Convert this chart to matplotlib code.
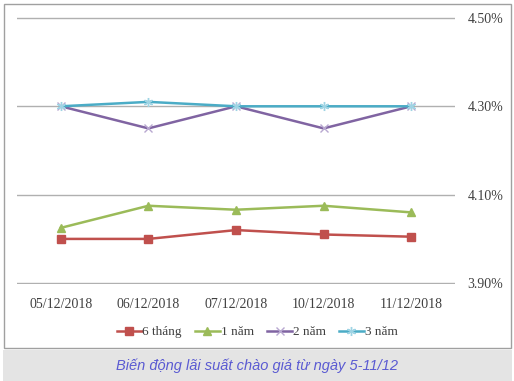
import matplotlib
matplotlib.use("Agg")
import matplotlib.pyplot as plt
from matplotlib.patches import Rectangle

dates = ["05/12/2018", "06/12/2018", "07/12/2018", "10/12/2018", "11/12/2018"]
s6m = [4.00, 4.00, 4.02, 4.01, 4.005]
s1y = [4.025, 4.075, 4.066, 4.075, 4.06]
s2y = [4.30, 4.25, 4.30, 4.25, 4.30]
s3y = [4.30, 4.31, 4.30, 4.30, 4.30]
series_names = ["6 tháng", "1 năm", "2 năm", "3 năm"]
yticks = [3.90, 4.10, 4.30, 4.50]
caption = "Biến động lãi suất chào giá từ ngày 5-11/12"

W, H = 514, 381
fig = plt.figure(figsize=(W / 100, H / 100), dpi=100)
fig.patch.set_facecolor("white")

# outer chart border
fig.add_artist(Rectangle((4 / W, 1 - 348 / H), 507 / W, 344 / H, transform=fig.transFigure,
                         fill=False, edgecolor="#a0a0a0", linewidth=1.0))
# caption box
fig.add_artist(Rectangle((3 / W, 0), 509 / W, 31 / H, transform=fig.transFigure,
                         facecolor="#e4e4e4", edgecolor="none"))
fig.text(0.5, 1 - 366 / H, caption, ha="center", va="center", fontsize=10.5,
         style="italic", color="#5a5ad2", family="Liberation Sans")

ax = fig.add_axes([17 / W, 1 - 284 / H, (455 - 17) / W, (284 - 17) / H])
ax.set_facecolor("none")
x = list(range(len(dates)))

ax.plot(x, s6m, color="#C0504D", lw=1.8, marker="s", ms=5.5, label=series_names[0])
ax.plot(x, s1y, color="#9BBB59", lw=1.8, marker="^", ms=5.5, label=series_names[1])
ax.plot(x, s2y, color="#8064A2", lw=1.8, marker="x", ms=5.5, mew=1.0,
        mec="#b8a8d0", label=series_names[2])
ax.plot(x, s3y, color="#4BACC6", lw=1.8, marker=(6, 2, 0), ms=6.5, mew=1.0,
        mec="#9fd4e4", label=series_names[3])

ax.set_xlim(-0.5, len(dates) - 0.5)
ax.set_ylim(3.898, 4.502)
ax.set_yticks(yticks)
ax.set_yticklabels([f"{v:.2f}%" for v in yticks])
ax.yaxis.tick_right()
ax.set_xticks(x)
ax.set_xticklabels(dates)
ax.grid(axis="y", color="#b0b0b0", lw=1.0)
ax.set_axisbelow(True)
for s in ax.spines.values():
    s.set_visible(False)
ax.tick_params(length=0, labelsize=10, colors="#404040")
ax.tick_params(axis="y", pad=9)
ax.tick_params(axis="x", pad=10)
for t in ax.get_xticklabels() + ax.get_yticklabels():
    t.set_family("Liberation Serif")

leg = fig.legend(loc="center", bbox_to_anchor=(0.5, 1 - 332 / H), ncol=4, frameon=False,
                 prop={"family": "Liberation Serif", "size": 9.5}, handlelength=1.9,
                 handletextpad=0.05, columnspacing=1.0)
for t in leg.get_texts():
    t.set_color("#404040")

fig.savefig("out.png", dpi=100)
